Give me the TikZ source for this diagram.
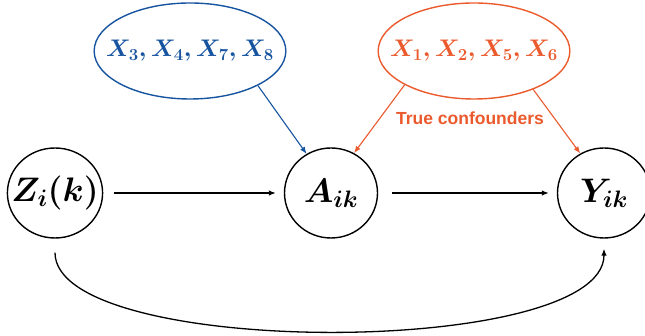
\RequirePackage{fix-cm}
\documentclass[tikz,border=0pt]{standalone}
\usepackage{amsmath,bm}
\usepackage{fontspec}
\newfontfamily\labelfont{Liberation Sans}
\usetikzlibrary{arrows.meta,shapes.geometric,positioning}
\definecolor{covblue}{RGB}{22,84,160}
\definecolor{confred}{RGB}{235,90,45}

\begin{document}
\begin{tikzpicture}[>={Latex[length=7pt,width=5.5pt]}, x=1pt, y=1pt,
  var/.style={ellipse, draw, line width=1.4pt, minimum width=93pt, minimum height=90pt,
    inner xsep=-10pt, inner ysep=0pt, font=\fontsize{34}{40}\selectfont\boldmath},
  cov/.style={ellipse, draw, line width=1.4pt, minimum width=189pt, minimum height=96pt,
    inner xsep=-16pt, inner ysep=0pt, font=\fontsize{24}{28}\selectfont\boldmath},
  edge/.style={->, line width=1.3pt, shorten <=11pt, shorten >=8pt}]
\useasboundingbox (0,0) rectangle (645,336);
% the three variables on one row
\node[var] (Z) at (55,143) {$Z_i(k)$};
\node[var] (A) at (331,143) {$A_{ik}$};
\node[var] (Y) at (604,143) {$Y_{ik}$};
% the two sets of covariates
\node[cov, draw=covblue, text=covblue] (ign) at (190,285) {$X_3, X_4, X_7, X_8$};
\node[cov, draw=confred, text=confred] (conf) at (474,285) {$X_1, X_2, X_5, X_6$};
\node[text=confred, font=\labelfont\bfseries\fontsize{17.5}{20}\selectfont] (conflab) at (470,218) {True confounders};
% arrows
\draw[edge] (Z) -- (A);
\draw[edge, shorten <=14pt] (A) -- (Y);
\draw[->, line width=1.1pt, covblue] (ign.-27) -- (A.122);
\draw[->, line width=1.1pt, confred] (conf.-154) -- (A.60);
\draw[->, line width=1.1pt, confred] (conf.-33) -- (Y.121);
\draw[edge, shorten <=14pt, shorten >=10pt] (Z.south) to[out=-90, in=-90, looseness=0.56] (Y.south);
\end{tikzpicture}
\end{document}
